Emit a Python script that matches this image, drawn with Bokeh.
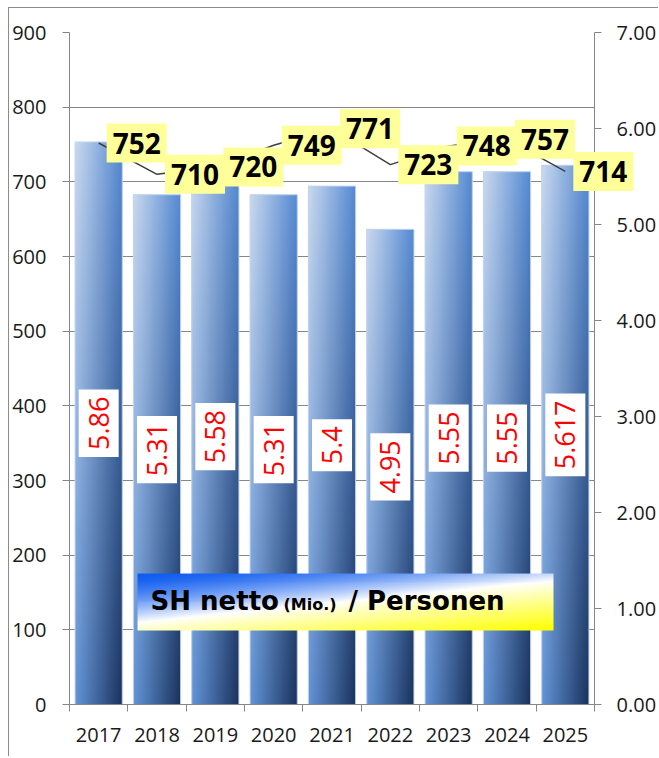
import numpy as np
from bokeh.plotting import figure
from bokeh.models import Range1d, LinearAxis, FixedTicker, PrintfTickFormatter
from bokeh.core.properties import value
from bokeh.embed import file_html
from bokeh.resources import INLINE

# ---------------- data ----------------
years = ["2017", "2018", "2019", "2020", "2021", "2022", "2023", "2024", "2025"]
personen = [5.86, 5.31, 5.58, 5.31, 5.4, 4.95, 5.55, 5.55, 5.617]
personen_labels = ["5.86", "5.31", "5.58", "5.31", "5.4", "4.95", "5.55", "5.55", "5.617"]
sh_netto = [752, 710, 720, 749, 771, 723, 748, 757, 714]
left_ticks = [0, 100, 200, 300, 400, 500, 600, 700, 800, 900]
right_ticks = [0, 1, 2, 3, 4, 5, 6, 7]
title_main = "SH netto"
title_unit = "(Mio.)"
title_rest = "/ Personen"

# ---------------- layout ----------------
W, H = 650, 749
GREY = "#868686"
TICK_FONT = "Open Sans"

n = len(years)
xs = [i + 0.5 for i in range(n)]

p = figure(width=W, height=H, x_range=Range1d(0, n), y_range=Range1d(0, 900),
           output_backend="svg", toolbar_location=None,
           min_border_left=60, min_border_right=65, min_border_top=24, min_border_bottom=53)
p.extra_y_ranges = {"right": Range1d(0, 7)}
p.outline_line_color = None
p.background_fill_color = "white"
p.border_fill_color = "white"
p.styles = {"border-top": "1px solid #8c8c8c", "border-left": "1px solid #8c8c8c",
            "margin-left": "8px", "margin-top": "7px"}

# grid
p.xgrid.visible = False
p.ygrid.ticker = FixedTicker(ticks=left_ticks)
p.ygrid.grid_line_color = GREY
p.ygrid.grid_line_width = 1

# x axis
xa = p.xaxis[0]
xa.ticker = FixedTicker(ticks=xs, minor_ticks=list(range(n + 1)))
xa.major_label_overrides = {x: y for x, y in zip(xs, years)}
xa.major_tick_line_color = None
xa.major_tick_out = 7
xa.major_tick_in = 0
xa.minor_tick_line_color = GREY
xa.minor_tick_out = 7
xa.minor_tick_in = 0
xa.axis_line_color = GREY
xa.major_label_standoff = 16
xa.major_label_text_font = TICK_FONT
xa.major_label_text_font_size = "20px"
xa.major_label_text_color = "#1a1a1a"

# left axis
ya = p.yaxis[0]
ya.ticker = FixedTicker(ticks=left_ticks)
ya.major_tick_out = 7
ya.major_tick_in = 0
ya.minor_tick_line_color = None
ya.major_tick_line_color = GREY
ya.axis_line_color = GREY
ya.major_label_standoff = 16
ya.major_label_text_font = TICK_FONT
ya.major_label_text_font_size = "20px"
ya.major_label_text_color = "#1a1a1a"

# right axis
ra = LinearAxis(y_range_name="right", ticker=FixedTicker(ticks=right_ticks),
                formatter=PrintfTickFormatter(format="%.2f"))
ra.major_tick_out = 7
ra.major_tick_in = 0
ra.minor_tick_line_color = None
ra.major_tick_line_color = GREY
ra.axis_line_color = GREY
ra.major_label_standoff = 15
ra.major_label_text_font = TICK_FONT
ra.major_label_text_font_size = "20px"
ra.major_label_text_color = "#1a1a1a"
p.add_layout(ra, "right")


# ---------------- gradients ----------------
def bar_gradient(w=64, h=256):
    u = np.linspace(0, 1, w)[None, :, None]
    v = np.linspace(0, 1, h)[:, None, None]  # row 0 = bottom
    TL = np.array([202, 217, 238], float)
    TR = np.array([84, 138, 212], float)
    BL = np.array([98, 148, 216], float)
    BR = np.array([26, 50, 92], float)
    top = TL * (1 - u) + TR * u
    bot = BL * (1 - u) + BR * u
    col = bot * (1 - v) + top * v
    img = np.empty((h, w, 4), dtype=np.uint8)
    img[..., :3] = np.clip(col, 0, 255).astype(np.uint8)
    img[..., 3] = 255
    return img.view(dtype=np.uint32).reshape((h, w))


def title_gradient(w=200, h=60):
    u = np.linspace(0, 1, w)[None, :, None]
    v = np.linspace(1, 0, h)[:, None, None]  # v=0 top, row 0 = bottom
    t = 0.42 * u + 0.58 * v
    blue = np.array([14, 92, 240], float)
    white = np.array([255, 255, 255], float)
    yellow = np.array([255, 255, 0], float)
    mid = 0.5
    a = np.clip(t / mid, 0, 1) ** 1.6
    b = np.clip((t - mid) / (1 - mid), 0, 1) ** 0.9
    col = np.where(t < mid, blue * (1 - a) + white * a, white * (1 - b) + yellow * b)
    img = np.empty((h, w, 4), dtype=np.uint8)
    img[..., :3] = np.clip(col, 0, 255).astype(np.uint8)
    img[..., 3] = 255
    return img.view(dtype=np.uint32).reshape((h, w))


BW = 0.81
# bars (right axis)
p.vbar(x=xs, top=personen, width=BW, bottom=0, y_range_name="right",
       fill_color="#5b8ed6", line_color=None)
g = bar_gradient()
p.image_rgba(image=[g] * n, x=[x - BW / 2 for x in xs], y=[0] * n,
             dw=[BW] * n, dh=personen, y_range_name="right")
p.vbar(x=xs, top=personen, width=BW, bottom=0, y_range_name="right",
       fill_color=None, line_color="#c5d6ee", line_width=1)

# bar value labels
p.text(x=xs, y=[v / 2 for v in personen], text=personen_labels, y_range_name="right",
       angle=np.pi / 2, text_align="center", text_baseline="middle",
       text_font=value("Open Sans"), text_font_size="27px", text_color="#ff0000",
       background_fill_color="white", padding=(7, 10))

# line (left axis)
p.line(xs, sh_netto, line_color="#404040", line_width=1.5)
p.text(x=xs, y=sh_netto, text=[str(v) for v in sh_netto], x_offset=38,
       text_align="center", text_baseline="middle",
       text_font=value("Open Sans"), text_font_style="bold", text_font_size="28px",
       text_color="black", background_fill_color="#ffff99", padding=(6, 9),
       level="overlay")

# title box
bx0, bx1 = 1.166, 8.297
by0, by1 = 99.1, 175.4
p.image_rgba(image=[title_gradient()], x=[bx0], y=[by0], dw=[bx1 - bx0], dh=[by1 - by0])
p.text(x=[bx0], y=[by0 + 40.0], text=[title_main], x_offset=13, text_align="left",
       text_baseline="alphabetic", text_font=value("DejaVu Sans"), text_font_style="bold",
       text_font_size="26px", text_color="black")
p.text(x=[bx0], y=[by0 + 35.0], text=[title_unit], x_offset=146, text_align="left",
       text_baseline="alphabetic", text_font=value("DejaVu Sans"), text_font_style="bold",
       text_font_size="16px", text_color="black")
p.text(x=[bx0], y=[by0 + 40.0], text=[title_rest], x_offset=211, text_align="left",
       text_baseline="alphabetic", text_font=value("DejaVu Sans"), text_font_style="bold",
       text_font_size="26px", text_color="black")

open("out.html", "w").write(file_html(p, INLINE))
